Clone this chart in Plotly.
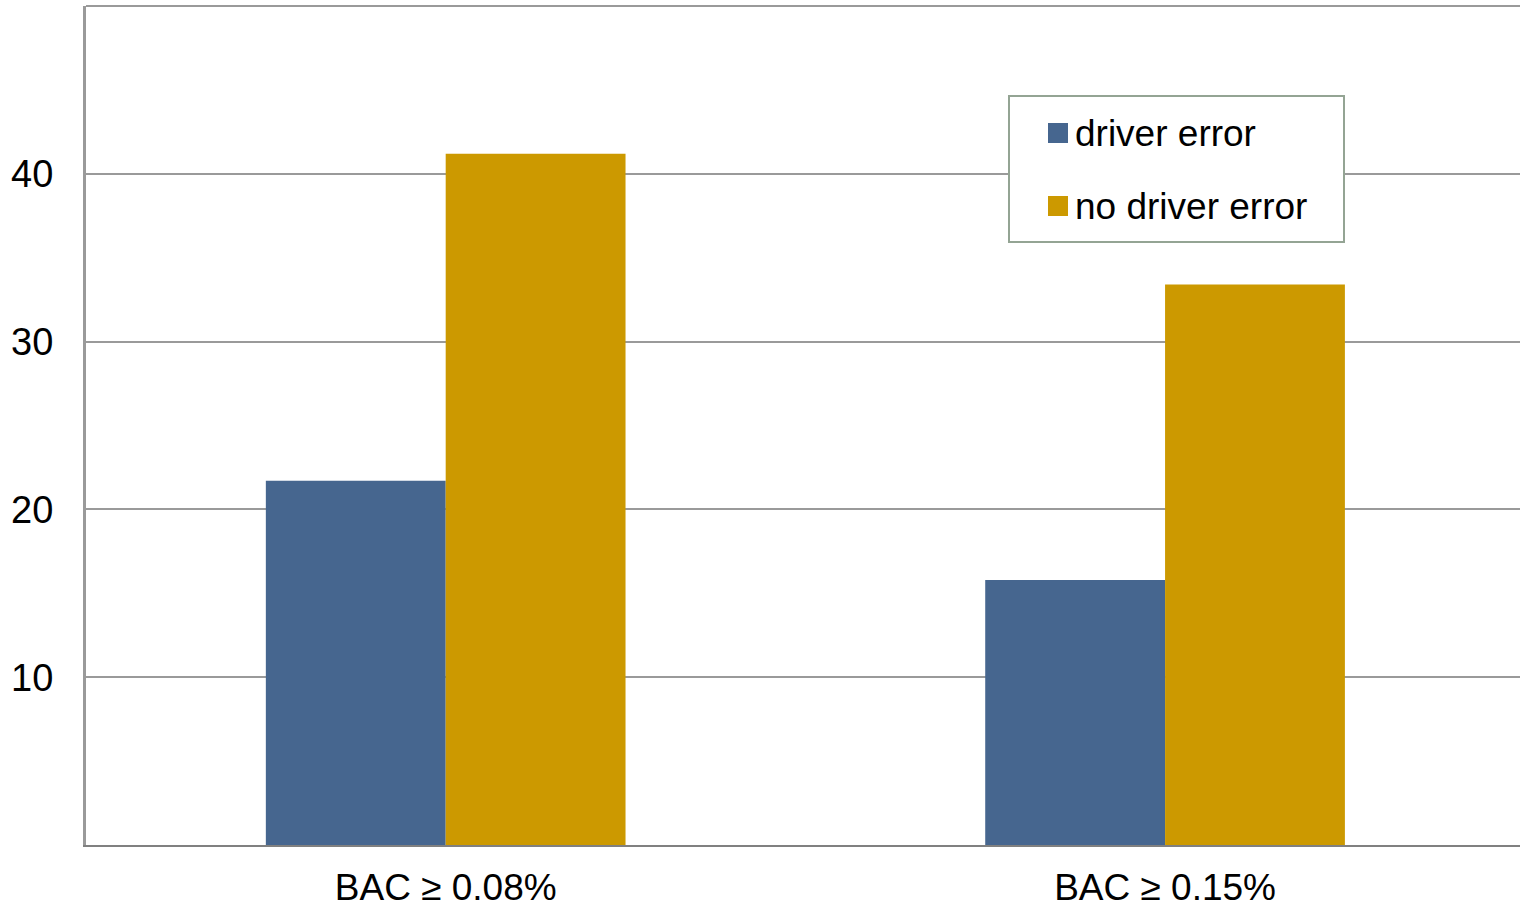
import plotly.graph_objects as go

# Categories and series
categories = ["BAC ≥ 0.08%", "BAC ≥ 0.15%"]
series_names = ["driver error", "no driver error"]
driver_error = [21.7, 15.8]
no_driver_error = [41.2, 33.4]
y_tick_values = [10, 20, 30, 40]

blue = "#46668F"
gold = "#CC9900"
grid = "#9A9A9A"
font_family = "Liberation Sans, Arial, sans-serif"

fig = go.Figure()
fig.add_trace(go.Bar(x=categories, y=driver_error, name=series_names[0],
                     marker=dict(color=blue, line=dict(width=0)), showlegend=False))
fig.add_trace(go.Bar(x=categories, y=no_driver_error, name=series_names[1],
                     marker=dict(color=gold, line=dict(width=0)), showlegend=False))

fig.update_layout(
    width=1520, height=907,
    margin=dict(l=86, r=0, t=6, b=62),
    paper_bgcolor="white", plot_bgcolor="white",
    barmode="group", bargap=0.5, bargroupgap=0,
    font=dict(family=font_family, size=37, color="black"),
    xaxis=dict(
        type="category", range=[-0.5, 1.4934], automargin=False,
        showline=True, linecolor="#808080", linewidth=2,
        showgrid=False, ticks="", ticklabelstandoff=9,
        tickfont=dict(size=37),
    ),
    yaxis=dict(
        range=[0, 50], tickvals=y_tick_values, automargin=False,
        showline=True, linecolor=grid, linewidth=3,
        showgrid=True, gridcolor=grid, gridwidth=2,
        zeroline=False, ticks="", ticklabelstandoff=22,
        tickfont=dict(size=38),
    ),
)

# Top frame edge
fig.add_shape(type="line", xref="paper", yref="paper", x0=0, x1=1, y0=1, y1=1,
              line=dict(color=grid, width=2))

# Legend box with swatches
px_w, px_h = 1434, 839
def px_x(x):
    return (x - 86) / px_w
def px_y(y):
    return (845 - y) / px_h

fig.add_shape(type="rect", xref="paper", yref="paper",
              x0=px_x(1009), x1=px_x(1344), y0=px_y(242), y1=px_y(96),
              line=dict(color="#94A494", width=2), fillcolor="white", layer="above")
for name, color, yc in [(series_names[0], blue, 133), (series_names[1], gold, 206)]:
    fig.add_shape(type="rect", xref="paper", yref="paper",
                  x0=px_x(1048), x1=px_x(1068), y0=px_y(yc + 10), y1=px_y(yc - 10),
                  line=dict(width=0), fillcolor=color, layer="above")
    fig.add_annotation(xref="paper", yref="paper", x=px_x(1073), y=px_y(yc),
                       text=name, showarrow=False, xanchor="left", yanchor="middle",
                       font=dict(size=37, color="black", family=font_family))

fig.write_html("out.html")
